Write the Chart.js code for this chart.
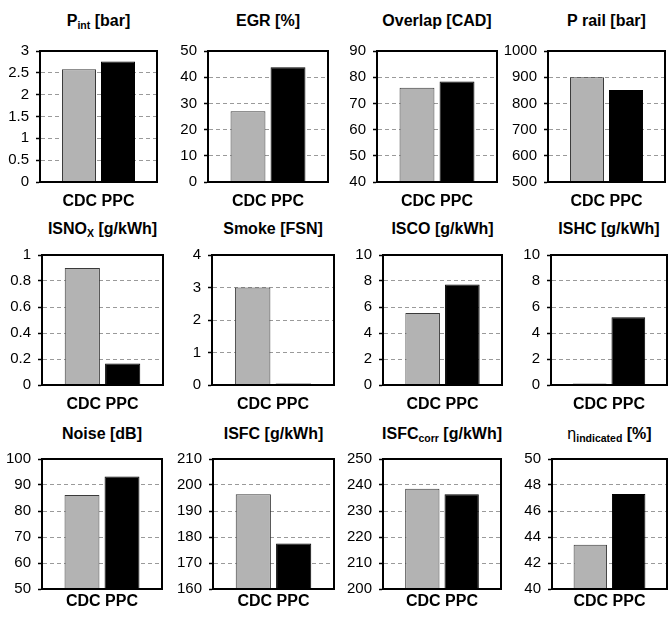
<!DOCTYPE html>
<html>
<head>
<meta charset="utf-8">
<script src="https://cdn.jsdelivr.net/npm/chart.js@4.4.1/dist/chart.umd.min.js"></script>
<style>
  html, body { margin: 0; padding: 0; background: #fff; overflow: hidden; }
  #wrap { position: relative; width: 668px; height: 620px; font-family: "Liberation Sans", Arial, sans-serif; }
  .ttl { position: absolute; transform: translate(-50%, -50%); font-weight: bold; font-size: 16px; white-space: nowrap; color: #000; }
  .ttl sub { font-size: 10.5px; vertical-align: -3px; line-height: 0; }
  canvas { position: absolute; }
</style>
</head>
<body>
<div id="wrap"></div>
<script>
// Data
const panelTitles = [
    'P<sub>int</sub> [bar]', 'EGR [%]', 'Overlap [CAD]', 'P rail [bar]',
    'ISNO<sub>X</sub> [g/kWh]', 'Smoke [FSN]', 'ISCO [g/kWh]', 'ISHC [g/kWh]',
    'Noise [dB]', 'ISFC [g/kWh]', 'ISFC<sub>corr</sub> [g/kWh]', '<span style="font-weight:normal">&eta;</span><sub>indicated</sub> [%]'
];
const categoryLabel = ['CDC PPC'];
const seriesNames = ['CDC', 'PPC'];
const cdcValues = [2.58, 27.0, 76.0, 900, 0.90, 3.0, 5.53, 0.12, 86.2, 196.4, 238.6, 43.4];
const ppcValues = [2.76, 43.8, 78.4, 851, 0.165, 0.05, 7.74, 5.21, 93.3, 177.5, 236.4, 47.3];
const axisMin = [0, 0, 40, 500, 0, 0, 0, 0, 50, 160, 200, 40];
const axisMax = [3, 50, 90, 1000, 1, 4, 10, 10, 100, 210, 250, 50];
const axisStep = [0.5, 10, 10, 100, 0.2, 1, 2, 2, 10, 10, 10, 2];

// Layout of the grid of small plots
const plotLeft = [40, 208, 377, 548, 42, 212, 383, 551, 42, 213, 383, 552];
const plotRight = [157, 328, 497, 665, 163, 334, 502, 667, 162, 334, 501, 667];
const rowTop = [45, 249, 453];
const rowBottom = [182, 385, 589];
const titleY = [21, 229, 434];
const labelPad = [10, 10, 3];

const FONT = '"Liberation Sans", Arial, sans-serif';
const Y_W = 44, TOP_PAD = 10, X_H = 28;

const framePlugin = {
    id: 'frame',
    afterDraw(chart) {
        const a = chart.chartArea, ctx = chart.ctx;
        ctx.save();
        ctx.strokeStyle = '#000';
        ctx.lineWidth = 2;
        ctx.strokeRect(a.left, a.top, a.right - a.left, a.bottom - a.top);
        ctx.restore();
    }
};

const wrap = document.getElementById('wrap');

panelTitles.forEach((title, i) => {
    const row = Math.floor(i / 4);
    const left = plotLeft[i], right = plotRight[i];
    const top = rowTop[row], bottom = rowBottom[row];

    const t = document.createElement('div');
    t.className = 'ttl';
    t.innerHTML = title;
    t.style.left = ((left + right) / 2) + 'px';
    t.style.top = titleY[row] + 'px';
    wrap.appendChild(t);

    const cv = document.createElement('canvas');
    const w = (right - left) + Y_W + 3;
    const h = (bottom - top) + TOP_PAD + X_H;
    cv.width = w; cv.height = h;
    cv.style.left = (left - Y_W) + 'px';
    cv.style.top = (top - TOP_PAD) + 'px';
    cv.style.width = w + 'px';
    cv.style.height = h + 'px';
    wrap.appendChild(cv);

    const nTicks = Math.round((axisMax[i] - axisMin[i]) / axisStep[i]);

    new Chart(cv, {
        type: 'bar',
        data: {
            labels: categoryLabel,
            datasets: [{
                label: seriesNames[0],
                data: [cdcValues[i]],
                backgroundColor: '#b3b3b3',
                borderColor: '#3a3a3a',
                borderWidth: 1
            }, {
                label: seriesNames[1],
                data: [ppcValues[i]],
                backgroundColor: '#000',
                borderColor: '#000',
                borderWidth: 1
            }]
        },
        options: {
            responsive: false,
            devicePixelRatio: 1,
            animation: false,
            categoryPercentage: 0.667,
            barPercentage: 0.872,
            layout: { padding: { top: TOP_PAD, right: 3, left: 0, bottom: 0 } },
            plugins: {
                legend: { display: false },
                tooltip: { enabled: false }
            },
            scales: {
                x: {
                    grid: { display: false, drawTicks: false },
                    border: { color: '#000', width: 2 },
                    ticks: {
                        color: '#000',
                        padding: labelPad[row],
                        font: { family: FONT, size: 16, weight: 'bold' }
                    },
                    afterFit(scale) { scale.height = X_H; }
                },
                y: {
                    min: axisMin[i],
                    max: axisMax[i],
                    ticks: {
                        stepSize: axisStep[i],
                        color: '#000',
                        padding: 7,
                        font: { family: FONT, size: 15 },
                        callback: v => String(Number(v.toFixed(2)))
                    },
                    grid: {
                        color: c => (c.index === 0 || c.index === nTicks) ? 'rgba(0,0,0,0)' : '#9a9a9a',
                        lineWidth: 1,
                        tickLength: 4,
                        tickColor: '#000',
                        tickWidth: 1.5,
                        tickBorderDash: []
                    },
                    border: { color: '#000', width: 2, dash: [4, 3] },
                    afterFit(scale) { scale.width = Y_W; }
                }
            }
        },
        plugins: [framePlugin]
    });
});
</script>
</body>
</html>
